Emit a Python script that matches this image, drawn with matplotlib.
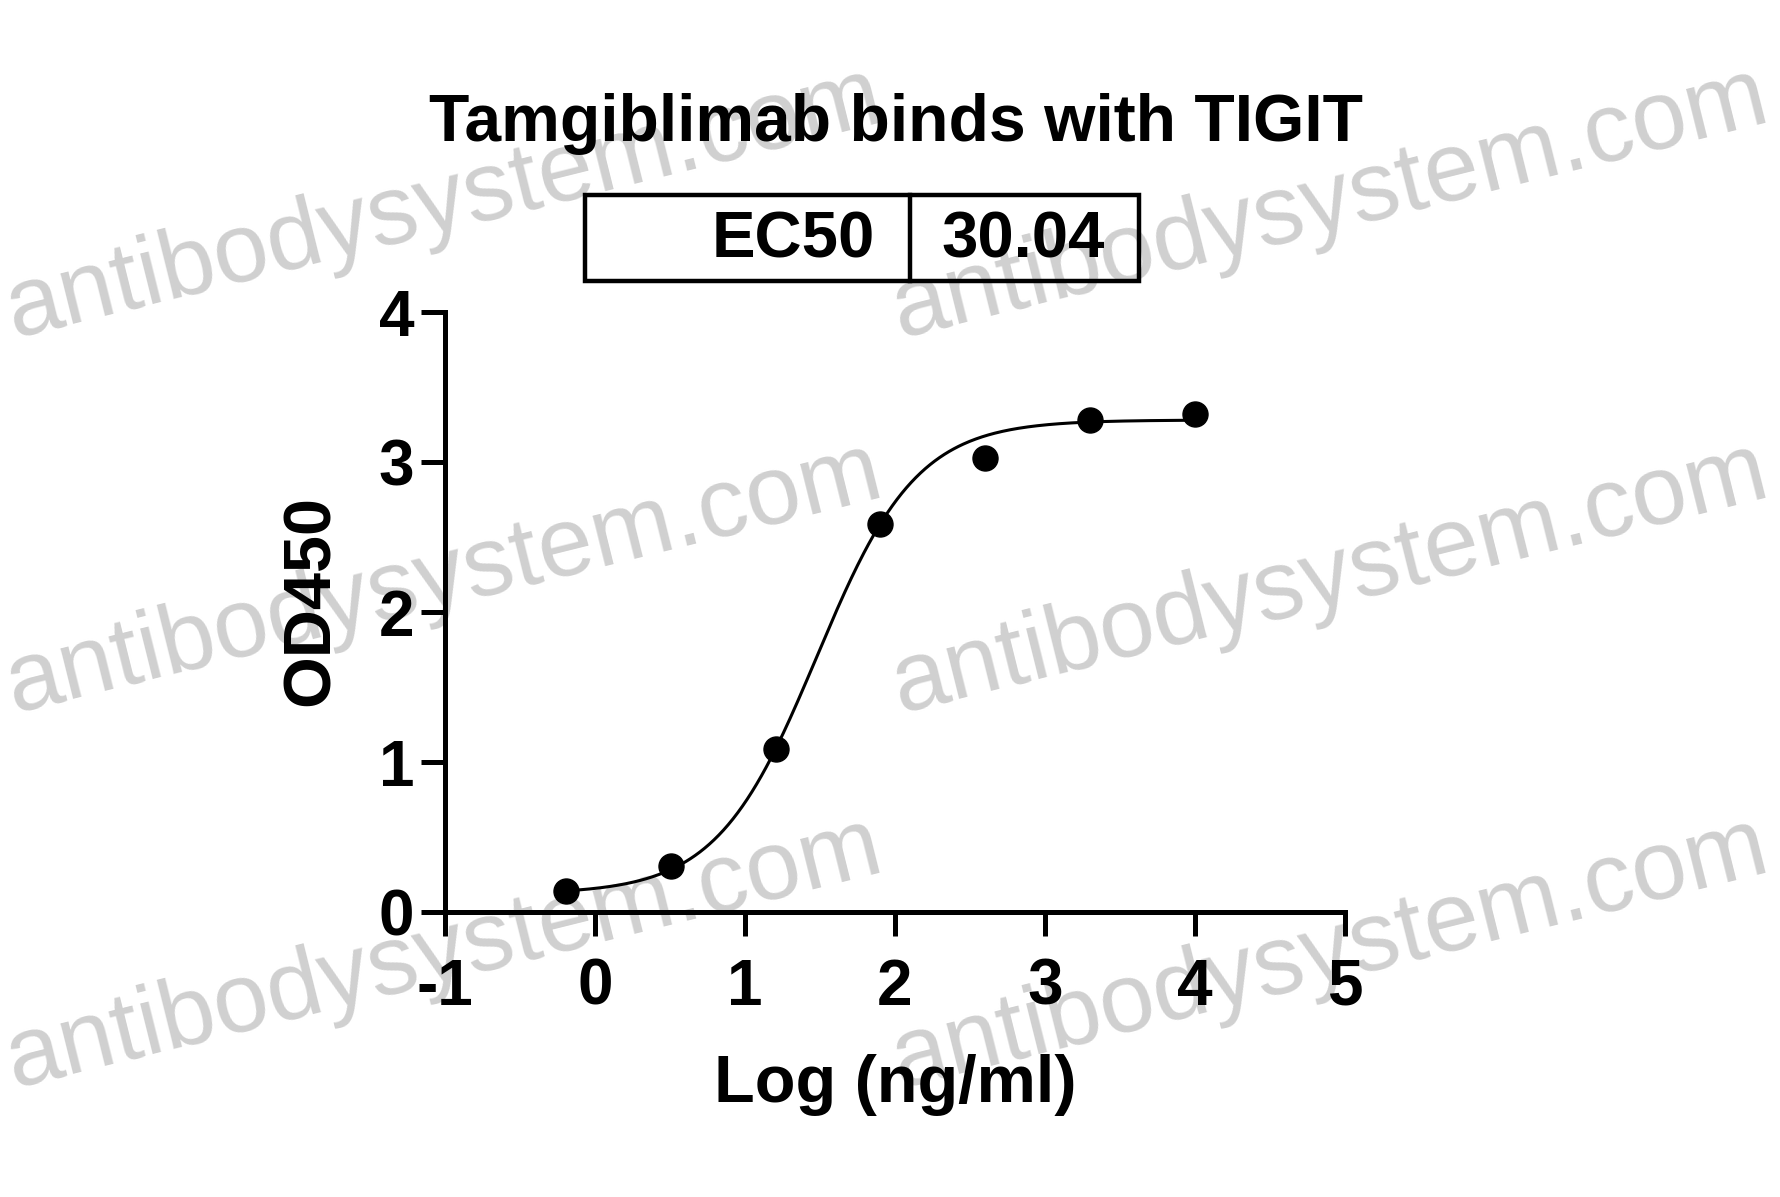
import numpy as np
import matplotlib
matplotlib.use('Agg')
import matplotlib.pyplot as plt
from matplotlib.patches import Rectangle
from matplotlib.lines import Line2D

# data
log_conc = [-0.194, 0.505, 1.204, 1.903, 2.602, 3.301, 4.0]
od450 = [0.14, 0.31, 1.09, 2.59, 3.03, 3.28, 3.32]

# 4PL fit parameters (EC50 from the chart)
ec50 = 30.04
bottom, top, hill = 0.12, 3.28, 1.3

title = 'Tamgiblimab binds with TIGIT'
x_ticks = [-1, 0, 1, 2, 3, 4, 5]
y_ticks = [0, 1, 2, 3, 4]

W, H = 1781, 1197


def fx(x):
    return x / W


def fy(y):
    return 1 - y / H


def main() -> None:
    plt.rcParams['font.family'] = ['Liberation Sans', 'DejaVu Sans']
    plt.rcParams['font.weight'] = 'bold'

    fig = plt.figure(figsize=(W / 100, H / 100), dpi=100)
    fig.patch.set_facecolor('white')

    # watermark
    for wx in (14, 900):
        for wy in (338, 713, 1088):
            fig.text(fx(wx), fy(wy), 'antibodysystem.com', fontsize=71,
                     fontweight='normal', color='#d0d0d0', rotation=14,
                     rotation_mode='anchor', ha='left', va='baseline', zorder=-5)

    ax = fig.add_axes([fx(445), fy(912), (1345 - 445) / W, (912 - 312) / H])
    ax.set_facecolor('none')

    xs = np.linspace(min(log_conc), max(log_conc), 400)
    ys = bottom + (top - bottom) / (1 + 10 ** ((np.log10(ec50) - xs) * hill))
    ax.plot(xs, ys, color='black', lw=2.2, clip_on=False)
    ax.plot(log_conc, od450, 'o', color='black', ms=18, clip_on=False, zorder=4)

    ax.set_xlim(-1, 5)
    ax.set_ylim(0, 4)
    ax.set_xticks(x_ticks)
    ax.set_yticks(y_ticks)
    ax.set_xticklabels([str(t) for t in x_ticks])
    ax.set_yticklabels([str(t) for t in y_ticks])
    for s in ('top', 'right'):
        ax.spines[s].set_visible(False)
    for s in ('left', 'bottom'):
        ax.spines[s].set_linewidth(3.6)
        ax.spines[s].set_capstyle('projecting')
    ax.tick_params(axis='both', width=3.6, length=17, labelsize=46, direction='out')
    ax.tick_params(axis='y', pad=5)
    ax.tick_params(axis='x', pad=16)

    ax.set_xlabel('Log (ng/ml)', fontsize=48, fontweight='bold', labelpad=26)
    ax.set_ylabel('OD450', fontsize=48, fontweight='bold')
    ax.yaxis.set_label_coords(-0.114, 0.52)

    fig.text(fx(896), fy(141), title, fontsize=47.5, fontweight='bold',
             ha='center', va='baseline')

    # EC50 box
    box = Rectangle((fx(585), fy(281)), (1139 - 585) / W, (281 - 195) / H,
                    transform=fig.transFigure, fill=False, lw=3.2, color='black')
    fig.add_artist(box)
    fig.add_artist(Line2D([fx(910), fx(910)], [fy(195), fy(281)],
                          transform=fig.transFigure, lw=3.2, color='black'))
    fig.text(fx(875), fy(258), 'EC50', fontsize=47, fontweight='bold',
             ha='right', va='baseline')
    fig.text(fx(941), fy(258), '30.04', fontsize=47, fontweight='bold',
             ha='left', va='baseline')

    fig.savefig('out.png', dpi=100)


if __name__ == '__main__':
    main()
